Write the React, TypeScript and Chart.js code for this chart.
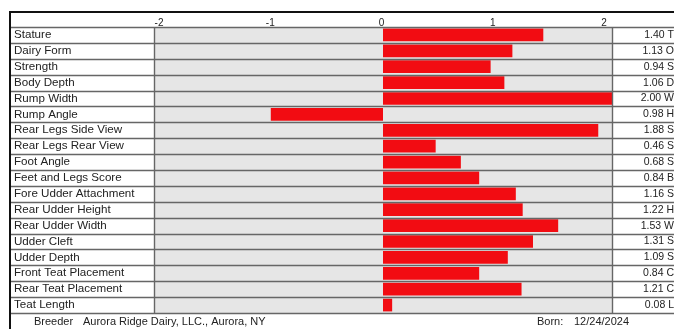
import React, { useEffect, useRef } from "react";
import { Chart, registerables } from "chart.js";

Chart.register(...registerables);

const traits = [
  "Stature",
  "Dairy Form",
  "Strength",
  "Body Depth",
  "Rump Width",
  "Rump Angle",
  "Rear Legs Side View",
  "Rear Legs Rear View",
  "Foot Angle",
  "Feet and Legs Score",
  "Fore Udder Attachment",
  "Rear Udder Height",
  "Rear Udder Width",
  "Udder Cleft",
  "Udder Depth",
  "Front Teat Placement",
  "Rear Teat Placement",
  "Teat Length",
];

const values = [1.4, 1.13, 0.94, 1.06, 2.0, -0.98, 1.88, 0.46, 0.68, 0.84, 1.16, 1.22, 1.53, 1.31, 1.09, 0.84, 1.21, 0.08];

const valueTexts = [
  "1.40 T", "1.13 O", "0.94 S", "1.06 D", "2.00 W", "0.98 H", "1.88 S", "0.46 S", "0.68 S",
  "0.84 B", "1.16 S", "1.22 H", "1.53 W", "1.31 S", "1.09 S", "0.84 C", "1.21 C", "0.08 L",
];

const tickValues = [-2, -1, 0, 1, 2];

const footerLeftLabel = "Breeder";
const footerLeftValue = "Aurora Ridge Dairy, LLC., Aurora, NY";
const footerRightLabel = "Born:";
const footerRightValue = "12/24/2024";

const FONT = "'Liberation Sans', Arial, sans-serif";

const framePlugin = {
  id: "framePlugin",
  beforeDraw(chart: any) {
    const { ctx, chartArea } = chart;
    const W = chart.width;
    const H = chart.height;
    ctx.save();
    ctx.fillStyle = "#ffffff";
    ctx.fillRect(0, 0, W, H);
    ctx.fillStyle = "#e6e6e6";
    ctx.fillRect(chartArea.left, chartArea.top, chartArea.right - chartArea.left, chartArea.bottom - chartArea.top);
    ctx.restore();
  },
  afterDatasetsDraw(chart: any) {
    const { ctx, chartArea, scales } = chart;
    const W = chart.width;
    const H = chart.height;
    const y = scales.y;
    ctx.save();
    ctx.strokeStyle = "#666666";
    ctx.lineWidth = 1.4;
    for (let i = 0; i <= traits.length; i++) {
      const py = Math.round(y.getPixelForValue(i - 0.5)) + 0.5;
      ctx.beginPath();
      ctx.moveTo(10, py);
      ctx.lineTo(W, py);
      ctx.stroke();
    }
    [chartArea.left, chartArea.right].forEach((px: number) => {
      ctx.beginPath();
      ctx.moveTo(Math.round(px) + 0.5, chartArea.top);
      ctx.lineTo(Math.round(px) + 0.5, chartArea.bottom);
      ctx.stroke();
    });
    ctx.strokeStyle = "#111111";
    ctx.lineWidth = 2;
    ctx.beginPath();
    ctx.moveTo(9, 12);
    ctx.lineTo(W, 12);
    ctx.moveTo(10, 11);
    ctx.lineTo(10, H);
    ctx.stroke();
    ctx.fillStyle = "#222222";
    ctx.font = `11px ${FONT}`;
    ctx.textBaseline = "middle";
    ctx.textAlign = "left";
    const fy = 322;
    ctx.fillText(footerLeftLabel, 34, fy);
    ctx.fillText(footerLeftValue, 83, fy);
    ctx.fillText(footerRightLabel, 537, fy);
    ctx.fillText(footerRightValue, 574, fy);
    ctx.restore();
  },
};

export default function App() {
  const ref = useRef<HTMLCanvasElement | null>(null);

  useEffect(() => {
    document.body.style.margin = "0";
    const canvas = ref.current;
    if (!canvas) return;
    const chart = new Chart(canvas, {
      type: "bar",
      data: {
        labels: traits,
        datasets: [
          {
            data: values,
            backgroundColor: "#f20c12",
            borderWidth: 0,
            barPercentage: 0.8,
            categoryPercentage: 1.0,
          },
        ],
      },
      options: {
        indexAxis: "y",
        animation: false,
        responsive: false,
        maintainAspectRatio: false,
        events: [],
        layout: { padding: { left: 14, right: 0, top: 13, bottom: 16 } },
        plugins: {
          legend: { display: false },
          tooltip: { enabled: false },
          title: { display: false },
        },
        scales: {
          x: {
            type: "linear",
            min: -2,
            max: 2,
            display: false,
          },
          x2: {
            type: "linear",
            position: "top",
            min: -2.045,
            max: 2.072,
            afterBuildTicks: (scale: any) => {
              scale.ticks = tickValues.map((v) => ({ value: v }));
            },
            afterFit: (scale: any) => {
              scale.height = 14;
            },
            grid: { display: false, drawTicks: false },
            border: { display: false },
            ticks: {
              padding: -2,
              color: "#222222",
              font: { family: FONT, size: 10 },
              maxRotation: 0,
              autoSkip: false,
              callback: (v: any) => String(v),
            },
          },
          y: {
            type: "category",
            position: "left",
            afterFit: (scale: any) => {
              scale.width = 140;
            },
            grid: { display: false, drawTicks: false },
            border: { display: false },
            ticks: {
              crossAlign: "far",
              padding: 0,
              color: "#222222",
              font: { family: FONT, size: 11.6 },
              autoSkip: false,
            },
          },
          y2: {
            type: "category",
            position: "right",
            labels: valueTexts,
            offset: true,
            afterFit: (scale: any) => {
              scale.width = 62;
            },
            grid: { display: false, drawTicks: false },
            border: { display: false },
            ticks: {
              crossAlign: "far",
              padding: 0,
              color: "#222222",
              font: { family: FONT, size: 10.5 },
              autoSkip: false,
            },
          },
        },
      },
      plugins: [framePlugin],
    } as any);
    return () => chart.destroy();
  }, []);

  return (
    <div style={{ width: 674, height: 329 }}>
      <canvas ref={ref} width={674} height={329} style={{ display: "block", width: 674, height: 329 }} />
    </div>
  );
}
